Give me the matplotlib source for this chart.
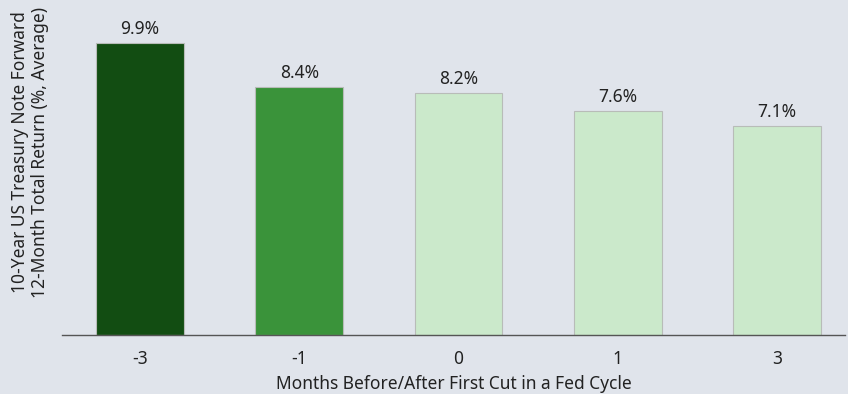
import matplotlib
matplotlib.use('Agg')
import matplotlib.pyplot as plt

plt.rcParams['font.family'] = ['Noto Sans', 'DejaVu Sans']

months = ['-3', '-1', '0', '1', '3']
returns = [9.9, 8.4, 8.2, 7.6, 7.1]
colors = ['#124d12', '#3a933a', '#cbe9cb', '#cbe9cb', '#cbe9cb']

bg = '#e0e4eb'
fig = plt.figure(figsize=(8.48, 3.94), dpi=100, facecolor=bg)
ax = fig.add_axes([0.073, 0.15, 0.924, 0.85], facecolor=bg)

x = range(len(months))
bars = ax.bar(x, returns, width=0.55, color=colors, edgecolor='#b8bcb8', linewidth=0.8)
for b, v in zip(bars, returns):
    ax.text(b.get_x() + b.get_width() / 2, v + 0.17, '%.1f%%' % v,
            ha='center', va='bottom', fontsize=12.5, color='#222222')

ax.set_xlim(-0.49, 4.43)
ax.set_ylim(0, 11.36)
ax.set_xticks(list(x))
ax.set_xticklabels(months, fontsize=12.5, color='#222222')
ax.tick_params(axis='x', length=0, pad=11)
ax.set_yticks([])
for s in ['top', 'right', 'left']:
    ax.spines[s].set_visible(False)
ax.spines['bottom'].set_color('#555555')
ax.spines['bottom'].set_linewidth(1)

ax.set_xlabel('Months Before/After First Cut in a Fed Cycle', fontsize=12.5,
              color='#222222', labelpad=5)
fig.text(30 / 848, 1 - 152 / 394,
         '10-Year US Treasury Note Forward\n12-Month Total Return (%, Average)',
         rotation=90, ha='center', va='center', fontsize=12.5, color='#222222',
         linespacing=1.15, multialignment='center')

fig.savefig('out.png', dpi=100, facecolor=bg)
